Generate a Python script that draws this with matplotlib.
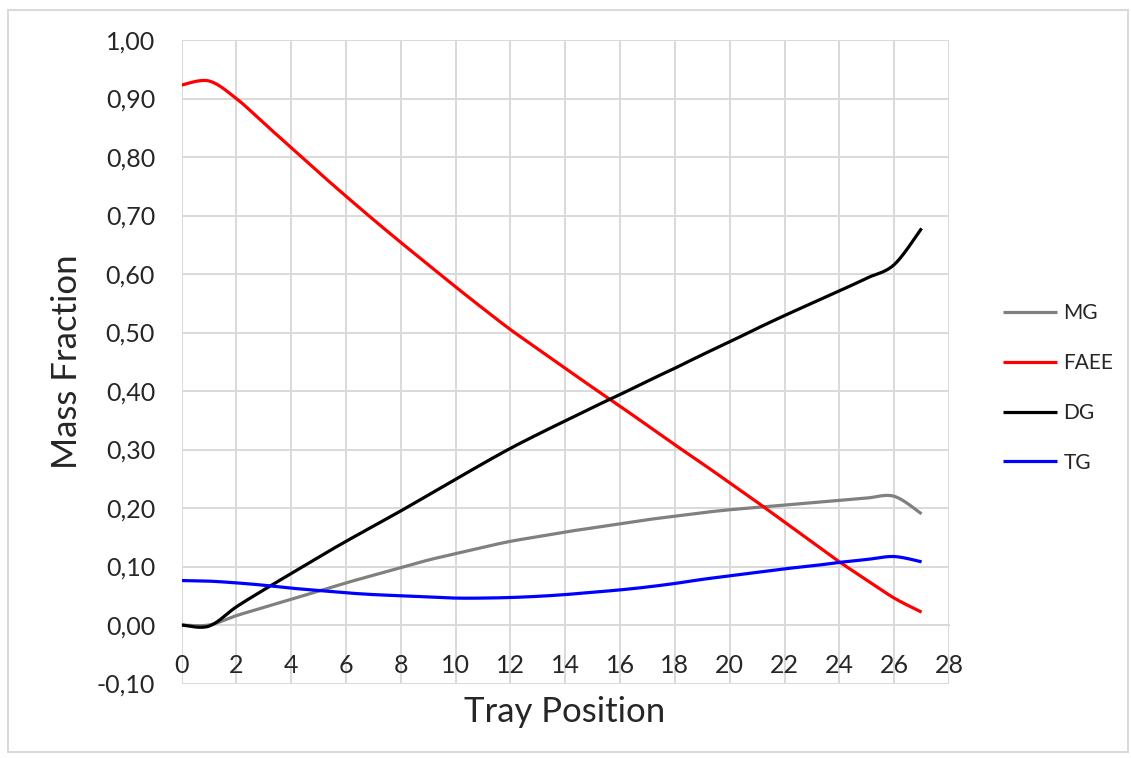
import numpy as np
import matplotlib.pyplot as plt
from matplotlib.patches import Rectangle

# Posição do prato (0 .. 27) e frações mássicas
tray = list(range(28))

mg = [0.000, 0.000, 0.016, 0.030, 0.044, 0.058, 0.072, 0.085, 0.098, 0.111,
      0.122, 0.133, 0.143, 0.151, 0.159, 0.166, 0.173, 0.180, 0.186, 0.192,
      0.197, 0.201, 0.205, 0.209, 0.213, 0.217, 0.220, 0.190]

faee = [0.923, 0.930, 0.900, 0.858, 0.816, 0.774, 0.733, 0.693, 0.654, 0.616,
        0.578, 0.541, 0.505, 0.472, 0.439, 0.406, 0.374, 0.341, 0.308, 0.276,
        0.243, 0.210, 0.176, 0.142, 0.108, 0.077, 0.046, 0.022]

dg = [0.000, -0.002, 0.031, 0.060, 0.088, 0.116, 0.143, 0.169, 0.195, 0.222,
      0.249, 0.276, 0.302, 0.326, 0.349, 0.372, 0.394, 0.417, 0.439, 0.462,
      0.484, 0.507, 0.529, 0.550, 0.571, 0.593, 0.616, 0.678]

tg = [0.076, 0.075, 0.072, 0.068, 0.063, 0.059, 0.055, 0.052, 0.050, 0.048,
      0.046, 0.046, 0.047, 0.049, 0.052, 0.056, 0.060, 0.065, 0.071, 0.078,
      0.084, 0.090, 0.096, 0.101, 0.107, 0.112, 0.117, 0.108]

series_names = ['MG', 'FAEE', 'DG', 'TG']
series_colors = ['#808080', '#ff0000', '#000000', '#0000ff']

x_ticks = list(range(0, 29, 2))
y_ticks = [round(-0.1 + 0.1 * i, 2) for i in range(12)]


def suavizar_excel(x, y, n=20):
    """Curva suavizada ao estilo do Excel (Bezier com tangentes Catmull-Rom)."""
    x = np.asarray(x, dtype=float)
    y = np.asarray(y, dtype=float)
    px = np.concatenate([[x[0]], x, [x[-1]]])
    py = np.concatenate([[y[0]], y, [y[-1]]])
    t = np.linspace(0, 1, n)[:, None]
    xs, ys = [], []
    for i in range(1, len(px) - 2):
        c1x = px[i] + (px[i + 1] - px[i - 1]) / 6
        c1y = py[i] + (py[i + 1] - py[i - 1]) / 6
        c2x = px[i + 1] - (px[i + 2] - px[i]) / 6
        c2y = py[i + 1] - (py[i + 2] - py[i]) / 6
        b = np.hstack([(1 - t) ** 3, 3 * (1 - t) ** 2 * t, 3 * (1 - t) * t ** 2, t ** 3])
        xs.append(b @ np.array([px[i], c1x, c2x, px[i + 1]]))
        ys.append(b @ np.array([py[i], c1y, c2y, py[i + 1]]))
    return np.concatenate(xs), np.concatenate(ys)


plt.rcParams['font.family'] = ['Lato', 'DejaVu Sans']
text_color = '#262626'
grid_color = '#d9d9d9'

fig = plt.figure(figsize=(11.31, 7.58), dpi=100)
ax = fig.add_axes([181.5 / 1131, 1 - 683.5 / 758, 767.5 / 1131, 643.5 / 758])

for values, name, color in zip([mg, faee, dg, tg], series_names, series_colors):
    xs, ys = suavizar_excel(tray, values)
    ax.plot(xs, ys, color=color, linewidth=2.3, label=name, solid_capstyle='butt', zorder=3)

ax.set_xlim(0, 28)
ax.set_ylim(-0.1, 1.0)
ax.set_xticks(x_ticks)
ax.set_yticks(y_ticks)
ax.set_yticklabels([f'{v:.2f}'.replace('.', ',') for v in y_ticks])
ax.grid(True, color=grid_color, linewidth=1.4, zorder=0)
ax.set_axisbelow(True)

# Eixo horizontal cruza em y = 0, como no Excel
for side in ['top', 'right', 'left']:
    ax.spines[side].set_visible(False)
ax.spines['bottom'].set_position(('data', 0))
ax.spines['bottom'].set_color(grid_color)
ax.spines['bottom'].set_linewidth(1.4)
ax.tick_params(axis='x', length=0, pad=21, labelsize=18, labelcolor=text_color)
ax.tick_params(axis='y', length=0, pad=19, labelsize=18, labelcolor=text_color)

fig.text(67 / 1131, 1 - 362 / 758, 'Mass Fraction', rotation=90, ha='center', va='center',
         fontsize=25, color=text_color)
fig.text(565 / 1131, 1 - 712 / 758, 'Tray Position', ha='center', va='center',
         fontsize=25, color=text_color)

ax.legend(loc='center left', bbox_to_anchor=(1003 / 1131, 1 - 388 / 758),
          bbox_transform=fig.transFigure, frameon=False, fontsize=15,
          handlelength=2.6, handletextpad=0.3, labelspacing=1.43,
          borderpad=0, borderaxespad=0, labelcolor=text_color)

# Moldura clara à volta da área do gráfico
fig.patches.append(Rectangle((8 / 1131, 1 - 752 / 758), 1120 / 1131, 742 / 758,
                             transform=fig.transFigure, fill=False,
                             edgecolor=grid_color, linewidth=1.4))

fig.savefig('out.png', dpi=100)
